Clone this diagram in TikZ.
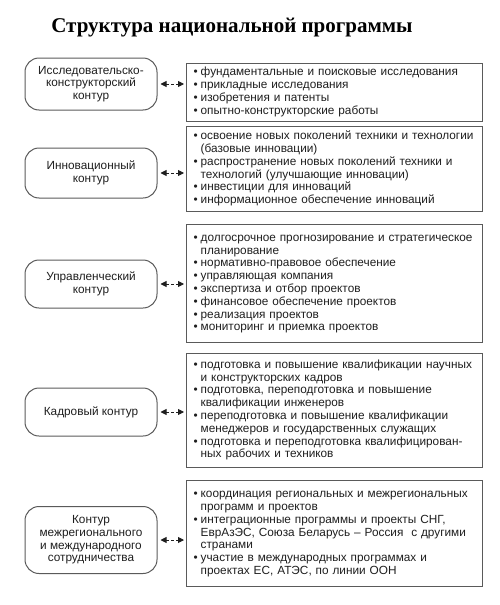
\documentclass[tikz,border=0pt]{standalone}
\usepackage{fontspec}
\setmainfont{Liberation Sans}
\newfontfamily\titlefont{Liberation Serif}
\usepackage{xcolor}
\definecolor{frame}{RGB}{90,90,90}
\definecolor{ink}{RGB}{30,30,30}
\usepackage{tikz}
\usetikzlibrary{arrows.meta,positioning}
\newcommand{\pk}{\textbullet}
\newenvironment{punkty}{\noindent\begin{tabular}{@{}l@{\hspace{3pt}}l@{}}}{\end{tabular}}
\tikzset{
  kontur/.style={draw=frame, line width=1pt, rounded corners=14pt,
                 minimum width=132pt, align=center, text=ink,
                 font=\fontsize{11.8}{12.6}\selectfont},
  spisok/.style={draw=frame, line width=1.1pt, anchor=north west,
                 text width=282pt, inner xsep=7pt, text=ink,
                 font=\fontsize{11.8}{12.8}\selectfont},
  svyaz/.style={{Triangle[length=6pt,width=6pt]}-{Triangle[length=6pt,width=6pt]},
                dash pattern=on 3pt off 2pt, line width=0.9pt, draw=ink},
}

\begin{document}
\begin{tikzpicture}[x=1pt,y=-1pt]
\useasboundingbox (0,0) rectangle (500,605);
%% title
\node (zag) at (232,28) {\titlefont\bfseries\fontsize{21}{24}\selectfont Структура национальной программы};
%% contours
\node[kontur, minimum height=52pt] (k1) at (91,84) {Исследовательско-\\конструкторский\\контур};
\node[kontur, minimum height=50pt] (k2) at (91,173) {Инновационный\\контур};
\node[kontur, minimum height=48pt] (k3) at (91,284) {Управленческий\\контур};
\node[kontur, minimum height=48pt] (k4) at (91,412) {Кадровый контур};
\node[kontur, minimum height=67pt] (k5) at (91,540) {Контур\\межрегионального\\и международного\\сотрудничества};
%% lists
\node[spisok, minimum height=54pt] (r1) at (186,63) {\begin{punkty}
  \pk & фундаментальные и поисковые исследования \\
  \pk & прикладные исследования \\
  \pk & изобретения и патенты \\
  \pk & опытно-конструкторские работы
\end{punkty}};
\node[spisok, minimum height=85pt] (r2) at (186,126) {\begin{punkty}
  \pk & освоение новых поколений техники и технологии \\
      & (базовые инновации) \\
  \pk & распространение новых поколений техники и \\
      & технологий (улучшающие инновации) \\
  \pk & инвестиции для инноваций \\
  \pk & информационное обеспечение инноваций
\end{punkty}};
\node[spisok, minimum height=118pt] (r3) at (186,224) {\begin{punkty}
  \pk & долгосрочное прогнозирование и стратегическое \\
      & планирование \\
  \pk & нормативно-правовое обеспечение \\
  \pk & управляющая компания \\
  \pk & экспертиза и отбор проектов \\
  \pk & финансовое обеспечение проектов \\
  \pk & реализация проектов \\
  \pk & мониторинг и приемка проектов
\end{punkty}};
\node[spisok, minimum height=114pt] (r4) at (186,353) {\begin{punkty}
  \pk & подготовка и повышение квалификации научных \\
      & и конструкторских кадров \\
  \pk & подготовка, переподготовка и повышение \\
      & квалификации инженеров \\
  \pk & переподготовка и повышение квалификации \\
      & менеджеров и государственных служащих \\
  \pk & подготовка и переподготовка квалифицирован- \\
      & ных рабочих и техников
\end{punkty}};
\node[spisok, minimum height=106pt] (r5) at (186,480) {\begin{punkty}
  \pk & координация региональных и межрегиональных \\
      & программ и проектов \\
  \pk & интеграционные программы и проекты СНГ, \\
      & ЕврАзЭС, Союза Беларусь -- Россия\ \ с другими \\
      & странами \\
  \pk & участие в международных программах и \\
      & проектах ЕС, АТЭС, по линии ООН
\end{punkty}};
%% links
\foreach \i in {1,...,5}
  \draw[svyaz] ([xshift=3pt]k\i.east) -- ([xshift=-2pt]k\i.east -| r\i.west);
\end{tikzpicture}
\end{document}
